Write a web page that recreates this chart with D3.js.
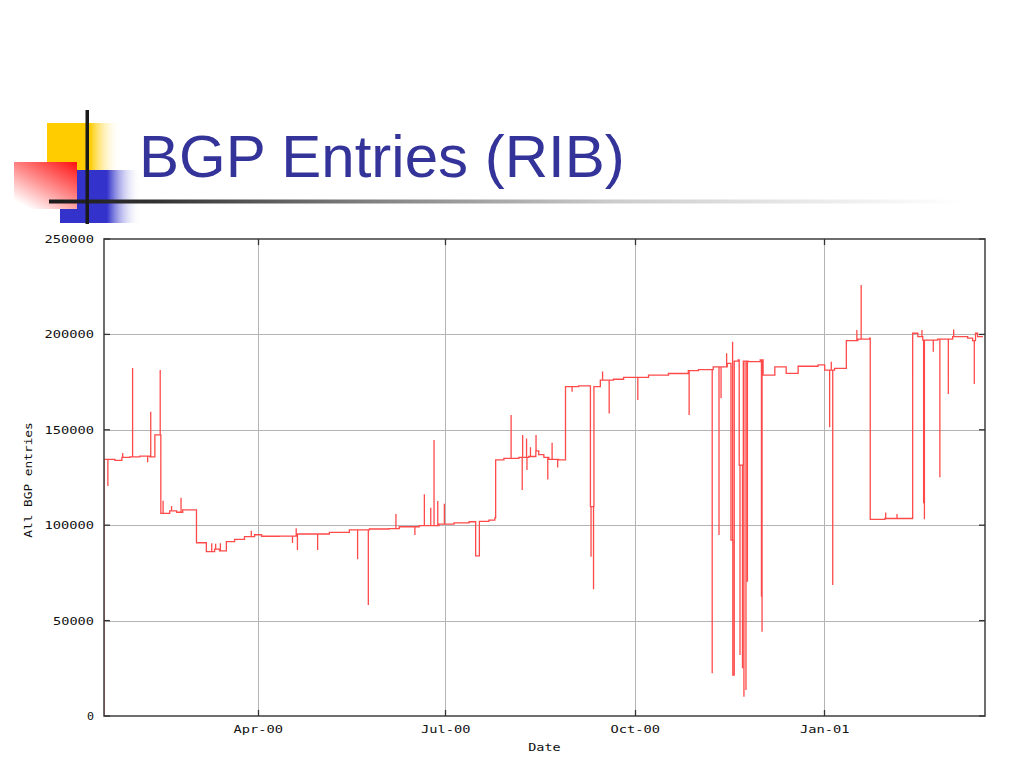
<!DOCTYPE html>
<html><head><meta charset="utf-8">
<script src="https://cdn.jsdelivr.net/npm/d3@7"></script>
<style>body{margin:0;background:#fff;} svg{display:block;}</style>
</head><body>
<svg id="c" width="1024" height="768"></svg>
<script>
// ---------- data ----------
const title = "BGP Entries (RIB)";
const xAxisTitle = "Date";
const yAxisTitle = "All BGP entries";
const startDate = "2000-01-17";            // day 0 of the day offsets below
const xDomain = ["2000-01-17T10:00", "2001-03-20T00:00"];
const yTicks = [0, 50000, 100000, 150000, 200000, 250000];
const xTickDates = ["2000-04-01", "2000-07-01", "2000-10-01", "2001-01-01"];
const xTickLabels = ["Apr-00", "Jul-00", "Oct-00", "Jan-01"];

// table level (days since 2000-01-17, entries)
const baseDays = [0.4,0.5,5.7,9.1,13.0,17.8,22.7,25.1,28.0,32.3,35.7,38.6,45.3,50.1,54.1,56.5,59.8,63.8,68.6,73.5,76.9,85.6,93.8,100.1,109.8,119.5,129.2,138.8,143.7,153.4,163.0,170.3,177.6,180.8,182.6,187.2,190.1,190.5,194.5,201.8,206.6,210.0,211.4,213.9,216.3,221.1,224.4,230.8,236.5,238.2,241.3,243.4,247.7,252.6,259.8,264.7,274.4,284.0,288.9,296.1,302.9,304.7,305.6,306.3,308.2,308.7,310.7,313.1,318.9,320.3,326.0,330.8,331.5,335.8,337.3,347.0,350.2,355.0,360.7,366.3,372.0,372.3,379.4,385.7,392.9,395.4,397.8,405.0,412.3,419.6,422.0,423.4,424.4,427];
const baseEntries = [0,134500,134000,135500,135800,136200,135800,147300,106200,107500,106800,108000,90800,86100,87500,86500,91400,92600,94000,95000,94200,94300,95400,95400,96200,97500,98000,98200,99200,99800,100600,101200,101800,83900,102000,102700,103800,134200,135000,135500,136000,139000,137000,135500,134500,134200,172600,173000,109700,172600,176000,176000,176500,177500,177500,178700,179500,181000,181500,183000,184800,92200,21500,186000,186600,131500,186000,185700,186600,178700,183000,183000,179600,179600,183300,184000,181300,182200,196700,197500,198000,103100,103500,103500,200600,198800,197000,197500,198800,198000,196700,200600,198800,198800];

// short-lived excursions (days since 2000-01-17, entries)
const spikeDays = [2.3,9.5,14.3,21.6,23.1,27.7,29.1,33.2,37.8,52.7,54.6,56.9,71.9,91.9,93.7,94.3,104.1,123.5,128.7,142.1,151.3,155.9,159.0,160.6,162.4,165.6,198.0,203.4,203.6,205.5,205.7,207.4,210.1,215.8,217.9,220.6,227.6,236.8,238.0,242.4,245.6,259.5,284.4,295.6,298.9,299.9,302.6,305.5,309.1,310.3,311.0,312.0,312.7,319.5,319.8,352.6,353.4,354.1,365.8,367.9,379.8,385.3,397.4,398.2,398.6,402.9,406.1,410.2,412.8,422.8];
const spikeEntries = [120500,137800,182400,133000,159500,181300,112800,110000,114400,90500,90300,90500,97100,90700,98400,87000,87000,82100,58200,105900,94900,116200,109200,144700,112700,111300,157800,118400,147300,145500,128900,140800,147300,124000,143200,130300,170000,83500,66400,180500,158600,165600,157800,22400,94900,166500,190100,196200,32000,25000,10100,13600,70400,62500,44200,151300,185700,68700,202300,225900,106600,105900,202300,111500,103100,190900,125100,168800,202600,174000];

// ---------- layout ----------
const M = {left: 104, right: 985, top: 239, bottom: 716};
const svg = d3.select("#c");
const defs = svg.append("defs");

const dayMs = 864e5;
const t0 = d3.utcParse("%Y-%m-%d")(startDate).getTime();
const toDate = d => new Date(t0 + d * dayMs);
const pISO = d3.utcParse("%Y-%m-%dT%H:%M");
const pDay = d3.utcParse("%Y-%m-%d");

const x = d3.scaleUtc().domain(xDomain.map(pISO)).range([M.left, M.right]);
const y = d3.scaleLinear().domain([0, 250000]).range([M.bottom, M.top]);

// ---------- slide decoration ----------
function grad(id, stops, x1="0", y1="0", x2="1", y2="0") {
  const g = defs.append("linearGradient").attr("id", id)
    .attr("x1", x1).attr("y1", y1).attr("x2", x2).attr("y2", y2);
  stops.forEach(s => g.append("stop").attr("offset", s[0]).attr("stop-color", s[1]).attr("stop-opacity", s[2] ?? 1));
}
grad("gy", [[0, "#ffcc00"], [0.58, "#ffcc00"], [1, "#ffffff", 0]]);
grad("gb", [[0, "#3333cc"], [0.58, "#3333cc"], [1, "#ffffff", 0]]);
grad("gr", [[0, "#ff1010"], [0.55, "#ff9090"], [1, "#ffffff"]], "1", "0", "0.25", "1");
grad("gl", [[0, "#1a1a1a"], [0.12, "#333333"], [0.35, "#808080"], [0.62, "#cccccc"], [1, "#ffffff"]]);

svg.append("rect").attr("x", 47).attr("y", 123).attr("width", 74).attr("height", 50).attr("fill", "url(#gy)");
svg.append("rect").attr("x", 60).attr("y", 170).attr("width", 81).attr("height", 53).attr("fill", "url(#gb)");
svg.append("rect").attr("x", 14).attr("y", 162).attr("width", 63).attr("height", 47).attr("fill", "url(#gr)");
svg.append("rect").attr("x", 49).attr("y", 199.5).attr("width", 912).attr("height", 4).attr("fill", "url(#gl)");
svg.append("rect").attr("x", 85.5).attr("y", 110).attr("width", 3.5).attr("height", 114).attr("fill", "#1a1a1a");

svg.append("text").attr("x", 139).attr("y", 177)
  .attr("font-family", "'Liberation Sans', Arial, sans-serif").attr("font-size", 60)
  .attr("fill", "#333399").text(title);

// ---------- grid ----------
const grid = svg.append("g").attr("stroke", "#b4b4b4").attr("stroke-width", 1);
yTicks.filter(v => v > 0 && v < 250000).forEach(v =>
  grid.append("line").attr("x1", M.left).attr("x2", M.right)
    .attr("y1", Math.round(y(v)) + 0.5).attr("y2", Math.round(y(v)) + 0.5));
xTickDates.map(pDay).forEach(d =>
  grid.append("line").attr("y1", M.top).attr("y2", M.bottom)
    .attr("x1", Math.round(x(d)) + 0.5).attr("x2", Math.round(x(d)) + 0.5));

// ---------- data line ----------
const pts = baseDays.map((d, i) => ({t: d, v: baseEntries[i], o: -1}));
spikeDays.forEach((d, i) => {
  let lvl = baseEntries[0];
  for (let k = 0; k < baseDays.length && baseDays[k] <= d; k++) lvl = baseEntries[k];
  pts.push({t: d, v: lvl, o: 0}, {t: d, v: spikeEntries[i], o: 1}, {t: d, v: lvl, o: 2});
});
pts.sort((a, b) => a.t - b.t || a.o - b.o);

defs.append("clipPath").attr("id", "clip").append("rect")
  .attr("x", M.left).attr("y", M.top).attr("width", M.right - M.left).attr("height", M.bottom - M.top);

const line = d3.line().curve(d3.curveStepAfter)
  .x(p => x(toDate(p.t))).y(p => y(p.v));
svg.append("path").attr("clip-path", "url(#clip)")
  .attr("d", line(pts)).attr("fill", "none")
  .attr("stroke", "#ff4a4a").attr("stroke-width", 1.3);

// ---------- frame and ticks ----------
svg.append("rect").attr("x", M.left).attr("y", M.top)
  .attr("width", M.right - M.left).attr("height", M.bottom - M.top)
  .attr("fill", "none").attr("stroke", "#4a4a4a").attr("stroke-width", 1.6);

const tk = svg.append("g").attr("stroke", "#333").attr("stroke-width", 1.3);
yTicks.forEach(v => {
  const yy = y(v);
  tk.append("line").attr("x1", M.left).attr("x2", M.left + 6).attr("y1", yy).attr("y2", yy);
  tk.append("line").attr("x1", M.right).attr("x2", M.right - 6).attr("y1", yy).attr("y2", yy);
});
xTickDates.map(pDay).forEach(d => {
  const xx = Math.round(x(d)) + 0.5;
  tk.append("line").attr("x1", xx).attr("x2", xx).attr("y1", M.bottom).attr("y2", M.bottom - 6);
  tk.append("line").attr("x1", xx).attr("x2", xx).attr("y1", M.top).attr("y2", M.top + 6);
});

// ---------- labels (wide terminal-style font) ----------
const mono = "'DejaVu Sans Mono', 'Liberation Mono', monospace";
const lab = svg.append("g").attr("font-family", mono).attr("font-size", 11).attr("fill", "#111");
function wideText(sel, s, per) {
  return sel.append("text").attr("textLength", s.length * per - 1.5)
    .attr("lengthAdjust", "spacingAndGlyphs").text(s);
}
yTicks.forEach(v => wideText(lab, String(v), 8.5).attr("x", 94).attr("y", y(v) + 4)
  .attr("text-anchor", "end"));
xTickDates.map(pDay).forEach((d, i) => wideText(lab, xTickLabels[i], 8.5)
  .attr("x", x(d) + 0.5).attr("y", 733).attr("text-anchor", "middle"));
wideText(lab, xAxisTitle, 8.5).attr("x", 544.5).attr("y", 751).attr("text-anchor", "middle");
wideText(lab, yAxisTitle, 7.8).attr("transform", "translate(32,480) rotate(-90)")
  .attr("text-anchor", "middle");
</script>
</body></html>
